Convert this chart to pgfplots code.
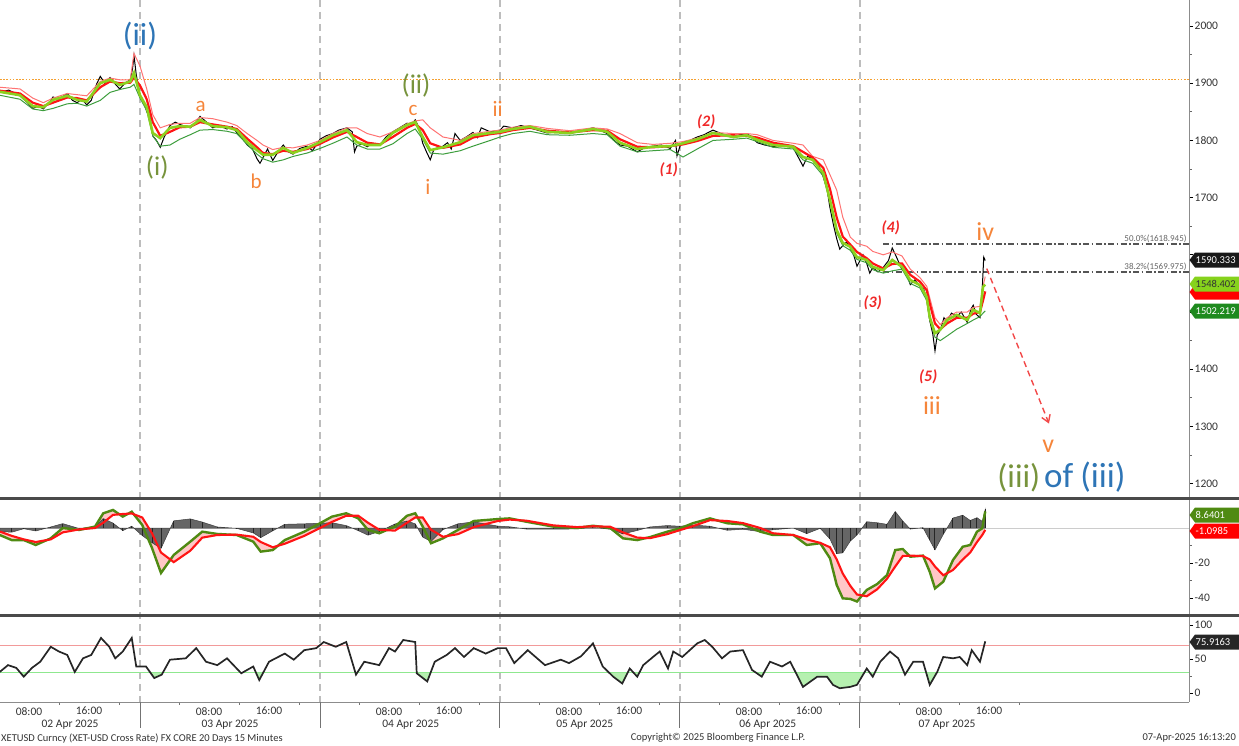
\documentclass[border=0pt]{standalone}
\usepackage{fontspec}
\setmainfont{Carlito}
\usepackage{pgfplots}
\pgfplotsset{compat=1.18}
\usepackage{pgfplotstable}
\usepgfplotslibrary{fillbetween}
\usetikzlibrary{arrows.meta}

\definecolor{maGreen}{HTML}{8CD11E}
\definecolor{thinGreen}{HTML}{3E9E3E}
\definecolor{thinPink}{HTML}{FF7373}
\definecolor{sigRed}{HTML}{FF1414}
\definecolor{macdGreen}{HTML}{4F8A12}
\definecolor{wOrange}{HTML}{F5853A}
\definecolor{wGreen}{HTML}{77933C}
\definecolor{wBlue}{HTML}{2E75B6}
\definecolor{wRed}{HTML}{F02828}
\definecolor{sepGray}{HTML}{BDBDBD}
\definecolor{barGray}{HTML}{4A4A4A}
\definecolor{lblGray}{HTML}{333333}
\definecolor{fibGray}{HTML}{555555}
\definecolor{refOrange}{HTML}{F5A030}
\definecolor{tagLime}{HTML}{86D21C}
\definecolor{tagDark}{HTML}{1E8A1E}
\definecolor{dipGreen}{HTML}{B6F0B0}
\definecolor{ob}{HTML}{F29A9A}
\definecolor{os}{HTML}{8FE88F}

% price (black candles approximated by a line)
\pgfplotstableread{
h v
5.3 1884
6.5 1888
8.0 1878
9.0 1866
9.7 1856
10.5 1860
11.1 1855
12.0 1868
12.4 1876
13.2 1872
14.3 1882
15.0 1870
15.6 1866
16.3 1872
16.9 1862
17.5 1870
18.2 1898
18.7 1912
19.3 1900
20.0 1910
20.6 1900
21.3 1890
22.0 1900
22.7 1906
23.0 1925
23.2 1948
23.5 1915
24.0 1878
24.5 1868
24.9 1850
25.3 1845
25.7 1808
26.2 1800
26.7 1788
27.2 1805
28.0 1826
28.7 1832
29.3 1828
30.0 1825
30.7 1822
31.4 1830
32.0 1842
32.7 1834
33.7 1822
34.5 1826
35.6 1820
36.3 1824
36.9 1814
37.6 1805
38.3 1792
39.0 1785
39.6 1768
40.0 1760
40.4 1770
41.0 1785
41.7 1765
42.4 1780
43.1 1792
43.8 1780
44.4 1776
45.3 1786
46.3 1790
47.0 1782
48.0 1802
48.8 1808
49.7 1812
50.5 1818
51.6 1822
52.3 1815
52.6 1780
52.9 1790
53.6 1794
54.3 1789
55.0 1795
56.0 1792
56.8 1806
57.7 1815
58.6 1822
59.6 1830
60.2 1828
60.7 1836
61.2 1822
61.7 1795
62.2 1780
62.7 1766
63.2 1785
64.4 1790
65.0 1796
65.5 1785
66.0 1812
66.7 1800
67.5 1806
68.4 1814
69.0 1805
69.5 1822
70.7 1815
72.0 1818
72.5 1825
73.7 1822
74.8 1826
76.0 1822
77.0 1818
78.3 1813
79.5 1815
81.3 1812
82.5 1816
84.4 1822
85.3 1818
86.3 1812
87.2 1800
88.0 1792
89.0 1790
90.3 1780
91.4 1788
92.4 1790
93.5 1792
94.7 1786
95.4 1800
95.6 1773
96.0 1790
96.4 1797
97.3 1800
98.3 1806
99.2 1810
100.4 1818
101.5 1812
103.1 1805
104.0 1810
104.9 1812
105.6 1806
106.3 1796
107.3 1792
108.4 1789
109.5 1792
111.1 1787
111.8 1770
112.4 1755
113.0 1772
113.7 1768
114.4 1760
115.1 1736
115.6 1715
116.0 1682
116.5 1650
116.9 1628
117.3 1610
117.7 1616
118.2 1622
118.7 1612
119.2 1598
119.6 1580
120.0 1590
120.4 1600
120.9 1585
121.3 1568
121.7 1578
122.4 1570
123.1 1578
123.8 1590
124.3 1612
124.8 1598
125.6 1574
126.2 1568
126.7 1548
127.3 1556
128.0 1545
128.5 1540
128.9 1522
129.3 1485
129.7 1462
130.0 1432
130.3 1460
130.7 1468
131.2 1490
131.6 1484
132.2 1498
132.9 1492
133.5 1500
134.3 1482
134.8 1505
135.1 1512
135.5 1496
136.0 1490
136.3 1540
136.5 1596
136.7 1590
}\pricetab

% moving averages and bands: ma (lime), sig (red), up (thin pink), lo (thin green)
\pgfplotstableread{
h ma sig up lo
5.3 1885 1887 1893 1879
8.0 1879 1882 1890 1872
9.7 1860 1866 1874 1855
11.1 1858 1860 1866 1852
12.4 1871 1866 1874 1856
14.3 1878 1875 1882 1864
15.6 1871 1874 1880 1865
16.9 1868 1870 1878 1860
18.7 1900 1893 1903 1870
20.0 1906 1903 1909 1884
21.3 1897 1900 1906 1889
22.7 1903 1901 1906 1893
23.2 1918 1910 1952 1898
24.0 1879 1896 1930 1874
24.9 1858 1872 1890 1852
25.7 1813 1832 1845 1808
26.7 1804 1808 1822 1790
28.0 1822 1815 1828 1792
29.3 1825 1823 1830 1802
30.7 1824 1824 1830 1810
32.0 1836 1832 1840 1818
33.7 1825 1828 1838 1819
35.6 1823 1824 1832 1816
36.9 1818 1820 1826 1812
38.3 1797 1803 1812 1793
39.6 1783 1788 1800 1776
40.4 1775 1778 1792 1768
41.7 1775 1776 1784 1762
43.1 1787 1782 1788 1766
44.4 1778 1780 1787 1772
46.3 1787 1785 1792 1778
48.0 1797 1794 1800 1786
49.7 1809 1805 1812 1795
51.6 1818 1815 1822 1806
52.9 1797 1806 1822 1792
54.3 1792 1796 1812 1785
56.0 1792 1793 1806 1785
57.7 1813 1806 1815 1794
59.6 1827 1822 1829 1812
60.7 1832 1829 1834 1820
61.7 1806 1818 1836 1802
62.7 1783 1795 1822 1778
64.4 1788 1787 1806 1776
66.7 1797 1793 1800 1782
68.4 1809 1805 1812 1790
70.7 1813 1811 1816 1800
72.0 1815 1813 1818 1806
73.7 1820 1818 1823 1812
76.0 1824 1822 1826 1816
78.3 1815 1817 1821 1810
81.3 1813 1814 1817 1809
84.4 1820 1818 1822 1812
86.3 1815 1817 1820 1810
88.0 1796 1802 1812 1790
90.3 1785 1789 1796 1780
92.4 1789 1788 1793 1782
94.7 1790 1790 1795 1784
96.4 1795 1793 1798 1771
98.3 1802 1799 1804 1785
100.4 1813 1808 1814 1800
103.1 1806 1809 1812 1802
104.9 1809 1808 1812 1804
106.3 1801 1805 1810 1798
108.4 1792 1796 1800 1788
111.1 1789 1790 1795 1785
112.4 1771 1780 1792 1766
113.7 1766 1770 1772 1760
115.1 1743 1752 1766 1738
116.0 1696 1715 1740 1692
116.9 1643 1665 1713 1638
117.7 1621 1632 1666 1616
118.7 1614 1618 1631 1608
119.6 1596 1605 1620 1592
120.9 1591 1594 1615 1586
121.7 1579 1585 1606 1574
123.1 1573 1576 1600 1568
124.3 1591 1584 1605 1572
125.6 1579 1585 1598 1575
126.7 1556 1565 1575 1550
128.0 1547 1553 1560 1542
128.9 1526 1538 1545 1520
129.3 1491 1515 1525 1486
130.0 1463 1480 1490 1456
130.7 1469 1470 1478 1450
131.6 1486 1480 1490 1458
132.9 1495 1490 1500 1470
134.3 1486 1490 1500 1480
135.1 1504 1497 1508 1486
136.0 1498 1500 1510 1492
136.4 1544 1520 1545 1498
136.7 1548 1536 1562 1502
}\matab

% MACD: macd (green), sig (red), hist
\pgfplotstableread{
h macd sig hist
5.3 -4 -2 -2
6.9 -6.9 -4.5 -2.4
8.5 -6.9 -6.5 -0.4
10.1 -9.7 -8 -1.7
12.1 -5.9 -6.5 0.6
13.7 0 -2.5 2.5
15.9 -1.1 -0.8 -0.3
18.0 0.8 0 0.8
19.1 8.4 3 5.4
20.4 10.3 7.5 2.8
21.7 6.5 8 -1.5
22.9 9.3 8.3 1
24.3 1.7 6 -4.3
25.6 -11.4 -3 -8.4
26.8 -25.7 -14 -11.7
28.5 -15.4 -19.5 4.1
30.7 -7.8 -13 5.2
32.3 -2.1 -5.5 3.4
34.3 -3.4 -4 0.6
36.9 -4 -3.8 -0.2
39.1 -7.8 -5 -2.8
40.1 -13.5 -8 -5.5
41.7 -12.6 -11 -1.6
43.3 -6.9 -9 2.1
45.9 -2.1 -4.5 2.4
48.0 2.7 0 2.7
49.6 6.5 3.5 3
51.5 8.4 7 1.4
53.1 5.5 7 -1.5
54.4 -1.1 3 -4.1
55.9 -3 -1 -2
58.0 0.8 -1.5 2.3
59.6 7 3 4
60.7 8.4 6 2.4
61.7 0.8 6 -5.2
62.8 -8.7 -1 -7.7
64.4 -5.9 -5 -0.9
66.4 -1.1 -3.5 2.4
68.5 4 0.5 3.5
71.7 5.1 4 1.1
73.3 5.5 4.8 0.7
75.5 3.6 4.2 -0.6
79.1 0.8 1.5 -0.7
82.3 0 0.5 -0.5
84.4 1.3 1 0.3
86.7 0 0.7 -0.7
88.4 -5.9 -2.5 -3.4
90.3 -6.9 -5.5 -1.4
92.0 -5.2 -5.8 0.6
94.3 -2.1 -3.5 1.4
96.0 -0.2 -1.2 1
97.7 2.7 1 1.7
100.0 5.5 4.5 1
102.3 2.7 4 -1.3
104.4 2.1 2.8 -0.7
106.7 -2.1 0 -2.1
108.4 -4 -3 -1
111.1 -4 -4 0
112.9 -9.7 -6.5 -3.2
114.7 -8.7 -8.5 -0.2
116.0 -17.3 -11 -6.3
116.9 -32.6 -18 -14.6
117.7 -40.2 -26 -14.2
118.7 -40.5 -33 -7.5
119.6 -42 -38 -4
120.9 -35.4 -39 3.6
122.3 -32 -35 3
123.6 -26.9 -29 2.1
124.7 -12.6 -22 9.4
125.7 -12 -16 4
126.7 -16.4 -15.8 -0.6
128.4 -15.8 -16 0.2
129.3 -25 -18 -7
130.0 -34.5 -22 -12.5
131.1 -30.7 -27 -3.7
132.4 -18.3 -24 5.7
133.7 -10.7 -18 7.3
134.7 -9.7 -14 4.3
135.6 -2.1 -8 5.9
136.3 -0.2 -4 3.8
136.7 9.5 -1.1 10.6
}\macdtab

% RSI
\pgfplotstableread{
h r
5.3 31
6.4 41
7.5 37
8.5 24
9.6 37
10.7 46
12.1 68
13.2 61
14.3 56
15.3 31
16.4 51
17.5 56
18.8 81
19.9 68
20.7 51
21.7 61
22.9 81
23.5 39
24.8 39
25.9 22
26.9 27
28.0 49
30.1 51
31.5 66
32.8 46
34.3 41
35.6 51
37.5 29
39.1 39
39.9 19
41.2 46
43.3 58
44.5 49
45.9 63
47.5 66
48.5 75
50.1 68
51.5 75
52.8 27
53.9 46
55.9 41
57.2 66
58.0 61
59.1 78
60.7 75
60.9 29
62.3 17
63.3 46
64.9 56
66.0 66
67.2 53
68.5 66
70.1 58
71.7 66
72.8 66
73.9 44
75.7 63
78.0 41
80.1 49
81.2 44
82.8 54
84.4 73
85.7 39
87.1 24
88.3 14
89.3 36
90.3 24
91.1 41
92.4 53
93.3 61
94.4 36
95.1 61
96.3 53
97.1 61
98.3 73
99.3 78
100.3 68
101.6 51
102.7 61
104.4 63
105.6 34
106.9 24
108.0 46
109.6 39
110.7 46
112.4 9
114.3 24
115.6 24
116.4 12
117.3 7
118.7 9
119.6 12
120.9 36
121.7 24
122.7 46
124.0 61
125.1 51
126.0 27
127.1 46
128.4 46
129.3 12
130.3 31
131.1 53
132.4 51
133.3 53
134.3 41
134.9 63
136.0 46
136.7 76
}\rsitab

\newcommand{\valtag}[4]{%
  \fill[#2] (1189.5,#1) -- (1195,#1+7.5) -- (1239,#1+7.5) -- (1239,#1-7.5) -- (1195,#1-7.5) -- cycle;
  \node[text=#3, font=\fontsize{10.5}{12}\selectfont, anchor=west, inner sep=0pt] at (1195.5,#1) {#4};}

\begin{document}
\begin{tikzpicture}[x=1pt,y=1pt]

\pgfplotsset{
  panel/.style={
    scale only axis, width=1189pt,
    xmin=5.333, xmax=163.87,
    axis y line*=right,
    axis line style={draw=black!45, line width=0.8pt},
    tick align=outside,
    major tick length=4pt, minor tick length=2.5pt,
    ytick style={black, line width=0.9pt},
    minor y tick style={black!60, line width=0.7pt},
    yticklabel style={font=\fontsize{11.5}{12}\selectfont, text=lblGray, inner sep=1.5pt},
    /pgf/number format/assume math mode=true,
    /pgf/number format/1000 sep={},
    clip=false,
  },
  dip/.style={fill=dipGreen, draw=none},
}

% ---------------- price panel ----------------
\begin{axis}[panel,
  at={(0pt,0pt)}, anchor=north west, height=497pt,
  ymin=1176.6, ymax=2045.5,
  axis x line=none,
  ytick={1200,1300,1400,1500,1600,1700,1800,1900,2000},
  yticklabels={1200,1300,1400,,,1700,1800,1900,2000},
  minor ytick={1250,1350,...,1950},
]
\pgfplotsinvokeforeach{24,48,72,96,120}{
  \draw[sepGray, line width=1.3pt, dash pattern=on 7pt off 5pt] (axis cs:#1,2045.5) -- (axis cs:#1,818.2);
}
\addplot[refOrange, line width=1.3pt, dash pattern=on 1.6pt off 1.6pt] coordinates {(5.333,1907) (163.87,1907)};
\addplot[fibGray, line width=1.1pt, dash pattern=on 6pt off 2.5pt on 1.5pt off 2.5pt] coordinates {(123.1,1618.945) (163.87,1618.945)};
\addplot[fibGray, line width=1.1pt, dash pattern=on 6pt off 2.5pt on 1.5pt off 2.5pt] coordinates {(123.1,1569.975) (163.87,1569.975)};
\node[anchor=south east, inner sep=1pt, text=black!60, font=\fontsize{9}{10}\selectfont] at (axis cs:163.7,1618.945) {50.0\%(1618.945)};
\node[anchor=south east, inner sep=1pt, text=black!60, font=\fontsize{9}{10}\selectfont] at (axis cs:163.7,1569.975) {38.2\%(1569.975)};

\addplot[black, line width=1pt] table[x=h, y=v] {\pricetab};
\addplot[thinPink, line width=1pt] table[x=h, y=up] {\matab};
\addplot[thinGreen, line width=1pt] table[x=h, y=lo] {\matab};
\addplot[sigRed, line width=2.2pt] table[x=h, y=sig] {\matab};
\addplot[maGreen, line width=2.6pt] table[x=h, y=ma] {\matab};

\draw[wRed!85, line width=1.4pt, dash pattern=on 6pt off 4pt, -{Straight Barb[length=7pt,width=9pt]}] (axis cs:136.9,1576) -- (axis cs:145.2,1305);

% wave labels
\node[text=wBlue, font=\fontsize{32}{34}\selectfont] at (axis cs:24,1983) {(ii)};
\node[text=wGreen, font=\fontsize{27}{30}\selectfont] at (axis cs:26.3,1752) {(i)};
\node[text=wOrange, font=\fontsize{21}{24}\selectfont] at (axis cs:32.1,1859) {a};
\node[text=wOrange, font=\fontsize{21}{24}\selectfont] at (axis cs:39.5,1729) {b};
\node[text=wGreen, font=\fontsize{27}{30}\selectfont] at (axis cs:60.8,1896) {(ii)};
\node[text=wOrange, font=\fontsize{21}{24}\selectfont] at (axis cs:60.4,1852) {c};
\node[text=wOrange, font=\fontsize{22}{24}\selectfont] at (axis cs:62.4,1719) {i};
\node[text=wOrange, font=\fontsize{22}{24}\selectfont] at (axis cs:71.7,1855) {ii};
\node[text=wRed, font=\fontsize{16}{18}\selectfont\bfseries\itshape] at (axis cs:94.5,1748) {(1)};
\node[text=wRed, font=\fontsize{16}{18}\selectfont\bfseries\itshape] at (axis cs:99.5,1832) {(2)};
\node[text=wRed, font=\fontsize{16}{18}\selectfont\bfseries\itshape] at (axis cs:121.7,1517) {(3)};
\node[text=wRed, font=\fontsize{16}{18}\selectfont\bfseries\itshape] at (axis cs:124.1,1647) {(4)};
\node[text=wRed, font=\fontsize{16}{18}\selectfont\bfseries\itshape] at (axis cs:129.1,1386) {(5)};
\node[text=wOrange, font=\fontsize{26}{28}\selectfont] at (axis cs:129.6,1336) {iii};
\node[text=wOrange, font=\fontsize{26}{28}\selectfont] at (axis cs:136.7,1640) {iv};
\node[text=wOrange, font=\fontsize{26}{28}\selectfont] at (axis cs:145.1,1266) {v};
\node[anchor=west, inner sep=0pt] at (axis cs:138.3,1212) {\fontsize{33}{36}\selectfont\textcolor{wGreen}{(iii)}\hspace{4pt}\fontsize{35}{36}\selectfont\textcolor{wBlue}{of\hspace{7pt}(iii)}};
\end{axis}

% ---------------- MACD panel ----------------
\begin{axis}[panel,
  at={(0pt,-499pt)}, anchor=north west, height=116pt,
  ymin=-49.71, ymax=16.57,
  axis x line=none,
  ytick={-40,-20}, minor ytick={-30,-10},
]
\addplot[black!20, line width=1pt] coordinates {(5.333,0) (163.87,0)};
\addplot[fill=black!60, draw=black!75, line width=0.5pt] table[x=h, y=hist] {\macdtab} \closedcycle;
\addplot[black!85, ycomb, line width=1pt] table[x=h, y=hist] {\macdtab};
\addplot[name path=macdline, draw=none] table[x=h, y=macd] {\macdtab};
\addplot[name path=sigline, draw=none] table[x=h, y=sig] {\macdtab};
\addplot[fill=red!40, fill opacity=0.55] fill between[of=macdline and sigline];
\addplot[macdGreen, line width=2.4pt] table[x=h, y=macd] {\macdtab};
\addplot[sigRed, line width=2.1pt] table[x=h, y=sig] {\macdtab};
\end{axis}

% ---------------- RSI panel ----------------
\begin{axis}[panel,
  at={(0pt,-617pt)}, anchor=north west, height=85pt,
  ymin=-13.24, ymax=111.8,
  axis x line*=bottom,
  ytick={0,50,100}, minor ytick={25,75},
  xtick={9.2,17.2,33.2,41.2,57.2,65.2,81.2,89.2,105.2,113.2,129.2,137.2},
  xticklabels={08:00,16:00,08:00,16:00,08:00,16:00,08:00,16:00,08:00,16:00,08:00,16:00},
  minor xtick={5.2,13.2,...,141.2},
  every major x tick/.append style={draw=none},
  minor x tick style={black!55, line width=0.7pt},
  xticklabel style={font=\fontsize{11.5}{12}\selectfont, text=lblGray, inner sep=1pt},
  extra x ticks={14.67,36,60.1,83.3,107.7,131.6},
  extra x tick labels={02 Apr 2025,03 Apr 2025,04 Apr 2025,05 Apr 2025,06 Apr 2025,07 Apr 2025},
  extra x tick style={xticklabel style={yshift=-13pt}, tick style={draw=none}},
]
\pgfplotsinvokeforeach{24,48,72,96,120}{
  \draw[black!55, line width=1pt] (axis cs:#1,-13.24) -- (axis cs:#1,-52);
}
% oversold areas (RSI below 30)
\addplot[dip] coordinates {(8.04,30) (8.5,24) (9.0,30)} -- cycle;
\addplot[dip] coordinates {(25.38,30) (25.9,22) (26.9,27) (27.05,30)} -- cycle;
\addplot[dip] coordinates {(39.46,30) (39.9,19) (40.43,30)} -- cycle;
\addplot[dip] coordinates {(52.72,30) (52.8,27) (52.97,30)} -- cycle;
\addplot[dip] coordinates {(60.9,30) (60.9,29) (62.3,17) (62.75,30)} -- cycle;
\addplot[dip] coordinates {(86.54,30) (87.1,24) (88.3,14) (89.03,30)} -- cycle;
\addplot[dip] coordinates {(89.8,30) (90.3,24) (90.58,30)} -- cycle;
\addplot[dip] coordinates {(106.12,30) (106.9,24) (107.2,30)} -- cycle;
\addplot[dip] coordinates {(111.4,30) (112.4,9) (114.3,24) (115.6,24) (116.4,12) (117.3,7) (118.7,9) (119.6,12) (120.6,30)} -- cycle;
\addplot[dip] coordinates {(121.3,30) (121.7,24) (121.97,30)} -- cycle;
\addplot[dip] coordinates {(125.89,30) (126.0,27) (126.17,30)} -- cycle;
\addplot[dip] coordinates {(128.82,30) (129.3,12) (130.25,30)} -- cycle;
\addplot[ob, line width=1.3pt] coordinates {(5.333,70) (163.87,70)};
\addplot[os, line width=1.3pt] coordinates {(5.333,30) (163.87,30)};
\addplot[black!85, line width=1.7pt] table[x=h, y=r] {\rsitab};
\end{axis}

% panel separators
\draw[barGray, line width=3.6pt] (0,-498.3) -- (1239,-498.3);
\draw[barGray, line width=3.6pt] (0,-615.5) -- (1239,-615.5);

% last-value tags (the red MA tag lies mostly hidden under the lime one)
\fill[red] (1189.5,-292) -- (1195,-284.5) -- (1239,-284.5) -- (1239,-299.5) -- (1195,-299.5) -- cycle;
\valtag{-260}{black!90}{white}{1590.333}
\valtag{-284}{tagLime}{black!80}{1548.402}
\valtag{-311}{tagDark}{white}{1502.219}
\valtag{-515}{macdGreen}{white}{8.6401}
\valtag{-531}{red}{white}{-1.0985}
\valtag{-642}{black!85}{white}{75.9163}

% footer
\node[anchor=west, inner sep=0pt, text=lblGray, font=\fontsize{10.5}{12}\selectfont] at (1,-738) {XETUSD Curncy (XET-USD Cross Rate) FX CORE 20 Days 15 Minutes};
\node[anchor=center, inner sep=0pt, text=lblGray, font=\fontsize{10.5}{12}\selectfont] at (718,-738) {Copyright© 2025 Bloomberg Finance L.P.};
\node[anchor=east, inner sep=0pt, text=lblGray, font=\fontsize{10.5}{12}\selectfont] at (1236,-738) {07-Apr-2025 16:13:20};

\pgfresetboundingbox
\useasboundingbox (0,0) rectangle (1239,-746);
\end{tikzpicture}
\end{document}
